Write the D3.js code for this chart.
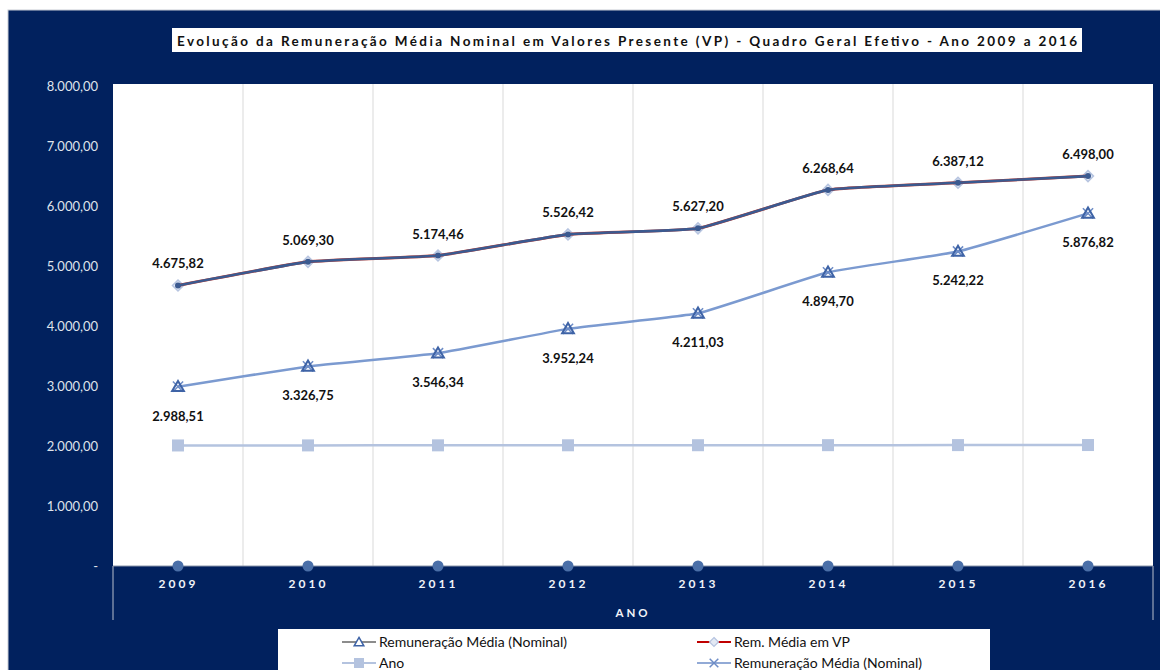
<!DOCTYPE html>
<html>
<head>
<meta charset="utf-8">
<script src="https://cdn.jsdelivr.net/npm/d3@7"></script>
<style>
  body { margin: 0; background: #fff; }
  svg { display: block; font-family: Lato, "Open Sans", sans-serif; }
</style>
</head>
<body>
<script>
const width = 1160;
const height = 670;

// data
const anos = ["2009", "2010", "2011", "2012", "2013", "2014", "2015", "2016"];
const nominal = [2988.51, 3326.75, 3546.34, 3952.24, 4211.03, 4894.70, 5242.22, 5876.82];
const emVP = [4675.82, 5069.30, 5174.46, 5526.42, 5627.20, 6268.64, 6387.12, 6498.00];
const anoSerie = [2009, 2010, 2011, 2012, 2013, 2014, 2015, 2016];
const zeros = [0, 0, 0, 0, 0, 0, 0, 0];
const yTicks = [0, 1000, 2000, 3000, 4000, 5000, 6000, 7000, 8000];

const titulo = "Evolução da Remuneração Média Nominal em Valores Presente (VP) - Quadro Geral Efetivo - Ano 2009 a 2016";

const navy = "#01215e";
const fmt = d3.formatLocale({ decimal: ",", thousands: ".", grouping: [3], currency: ["", ""] }).format(",.2f");

const svg = d3.select("body").append("svg")
    .attr("width", width)
    .attr("height", height);

// navy panel
svg.append("rect")
    .attr("x", 8).attr("y", 10)
    .attr("width", width).attr("height", height)
    .attr("fill", navy)
    .attr("stroke", "#c8ccd4");

// title box
svg.append("rect")
    .attr("x", 172).attr("y", 28)
    .attr("width", 910).attr("height", 24)
    .attr("fill", "#fff");
svg.append("text")
    .attr("x", 177).attr("y", 45.5)
    .attr("textLength", 900)
    .attr("lengthAdjust", "spacing")
    .attr("font-size", 13.5).attr("font-weight", 700)
    .attr("fill", "#111")
    .text(titulo);

const x = d3.scalePoint().domain(anos).range([113, 1153]).padding(0.5);
const band = x.step();
const y = d3.scaleLinear().domain([0, 8000]).range([566, 86]);

// plot area
svg.append("rect")
    .attr("x", 113).attr("y", 84)
    .attr("width", 1040).attr("height", 566 - 84)
    .attr("fill", "#fff");

// vertical gridlines between categories
svg.append("g")
    .selectAll("line")
    .data(anos.slice(1))
    .join("line")
    .attr("x1", d => x(d) - band / 2).attr("x2", d => x(d) - band / 2)
    .attr("y1", 84).attr("y2", 566)
    .attr("stroke", "#d9d9d9");

// box sides below the plot
svg.append("g")
    .selectAll("line")
    .data([113, 1153])
    .join("line")
    .attr("x1", d => d).attr("x2", d => d)
    .attr("y1", 566).attr("y2", 620)
    .attr("stroke", "#b8bfcc");

svg.append("line")
    .attr("x1", 113).attr("x2", 1153)
    .attr("y1", 566).attr("y2", 566)
    .attr("stroke", "#8b96aa");

// y axis labels
const yAxis = svg.append("g")
    .attr("transform", "translate(98,0)")
    .call(d3.axisLeft(y).tickValues(yTicks).tickSize(0).tickPadding(0)
        .tickFormat(d => d === 0 ? "-" : fmt(d)));
yAxis.select(".domain").remove();
yAxis.selectAll("text")
    .attr("font-family", "Lato, sans-serif")
    .attr("font-size", 13)
    .attr("fill", "#dfe3ec");

// x axis labels
const xAxis = svg.append("g")
    .attr("transform", "translate(0,566)")
    .call(d3.axisBottom(x).tickSize(0).tickPadding(13));
xAxis.select(".domain").remove();
xAxis.selectAll("text")
    .attr("font-family", "Lato, sans-serif")
    .attr("font-size", 12)
    .attr("font-weight", 700)
    .attr("letter-spacing", "3px")
    .attr("fill", "#f2f4f8");

svg.append("text")
    .attr("x", 633).attr("y", 617)
    .attr("text-anchor", "middle")
    .attr("font-size", 11.5).attr("font-weight", 700)
    .attr("letter-spacing", "3px")
    .attr("fill", "#f2f4f8")
    .text("ANO");

const line = d3.line().x((d, i) => x(anos[i])).y(d => y(d)).curve(d3.curveCardinal.tension(0.65));

// square turned 45 degrees, like the spreadsheet diamond
const diamondPath = r => `M0,${-r}L${r},0L0,${r}L${-r},0Z`;
const triangle = d3.symbol().type(d3.symbolTriangle).size(60);
const cross = d3.symbol().type(d3.symbolX).size(70);

// Ano series
svg.append("path").datum(anoSerie)
    .attr("d", line).attr("fill", "none")
    .attr("stroke", "#b4c3df").attr("stroke-width", 2.5);
svg.append("g").selectAll("rect").data(anoSerie).join("rect")
    .attr("x", (d, i) => x(anos[i]) - 6).attr("y", d => y(d) - 6)
    .attr("width", 12).attr("height", 12)
    .attr("fill", "#b4c3df");

// Remuneração média nominal
svg.append("path").datum(nominal)
    .attr("d", line).attr("fill", "none")
    .attr("stroke", "#7b9ad0").attr("stroke-width", 2.5);
svg.append("g").selectAll("path").data(nominal).join("path")
    .attr("transform", (d, i) => `translate(${x(anos[i])},${y(d)})`)
    .attr("d", cross)
    .attr("fill", "none").attr("stroke", "#6d8cc6").attr("stroke-width", 1.5);
svg.append("g").selectAll("path").data(nominal).join("path")
    .attr("transform", (d, i) => `translate(${x(anos[i])},${y(d) + 1})`)
    .attr("d", triangle)
    .attr("fill", "none").attr("stroke", "#3e63a6").attr("stroke-width", 2);

// Rem. média em VP
svg.append("g").selectAll("path").data(emVP).join("path")
    .attr("transform", (d, i) => `translate(${x(anos[i])},${y(d)})`)
    .attr("d", diamondPath(5.5))
    .attr("fill", "#e3e9f4").attr("stroke", "#b6c4e0").attr("stroke-width", 1.5);
svg.append("path").datum(emVP)
    .attr("d", line).attr("fill", "none")
    .attr("stroke", "#c0392b").attr("stroke-width", 3);
svg.append("path").datum(emVP)
    .attr("d", line).attr("fill", "none")
    .attr("stroke", "#3b5a90").attr("stroke-width", 2.6);
svg.append("g").selectAll("circle").data(emVP).join("circle")
    .attr("cx", (d, i) => x(anos[i])).attr("cy", d => y(d))
    .attr("r", 3).attr("fill", "#3b5a90");

// series sitting on zero
svg.append("g").selectAll("circle").data(zeros).join("circle")
    .attr("cx", (d, i) => x(anos[i])).attr("cy", d => y(d))
    .attr("r", 5.5).attr("fill", "#4a6fa8");

// data labels
svg.append("g").selectAll("text").data(emVP).join("text")
    .attr("x", (d, i) => x(anos[i])).attr("y", d => y(d) - 17)
    .attr("text-anchor", "middle")
    .attr("font-size", 13).attr("font-weight", 700).attr("fill", "#111")
    .text(d => fmt(d));
svg.append("g").selectAll("text").data(nominal).join("text")
    .attr("x", (d, i) => x(anos[i])).attr("y", d => y(d) + 34)
    .attr("text-anchor", "middle")
    .attr("font-size", 13).attr("font-weight", 700).attr("fill", "#111")
    .text(d => fmt(d));

// legend
const legend = svg.append("g");
legend.append("rect")
    .attr("x", 278).attr("y", 629)
    .attr("width", 712).attr("height", 60)
    .attr("fill", "#fff");

const legendItems = [
    { nome: "Remuneração Média (Nominal)", cor: "#8c8c8c", marca: "tri", lx: 342, ly: 642 },
    { nome: "Rem. Média em VP", cor: "#c00000", marca: "dia", lx: 697, ly: 642 },
    { nome: "Ano", cor: "#b4c3df", marca: "sq", lx: 342, ly: 663 },
    { nome: "Remuneração Média (Nominal)", cor: "#92aad6", marca: "x", lx: 697, ly: 663 }
];

legendItems.forEach(item => {
    const g = legend.append("g").attr("transform", `translate(${item.lx},${item.ly})`);
    g.append("line").attr("x1", 0).attr("x2", 34)
        .attr("stroke", item.cor).attr("stroke-width", 2.2);
    if (item.marca === "tri") {
        g.append("path").attr("transform", "translate(17,1)")
            .attr("d", d3.symbol().type(d3.symbolTriangle).size(40))
            .attr("fill", "#fff").attr("stroke", "#3e63a6").attr("stroke-width", 1.5);
    } else if (item.marca === "dia") {
        g.append("path").attr("transform", "translate(17,0)")
            .attr("d", diamondPath(4.5))
            .attr("fill", "#e3e9f4").attr("stroke", "#b6c4e0").attr("stroke-width", 1.2);
    } else if (item.marca === "sq") {
        g.append("rect").attr("x", 12).attr("y", -5)
            .attr("width", 10).attr("height", 10).attr("fill", "#b4c3df");
    } else {
        g.append("path").attr("transform", "translate(17,0)")
            .attr("d", d3.symbol().type(d3.symbolX).size(50))
            .attr("fill", "none").attr("stroke", "#6d8cc6").attr("stroke-width", 1.5);
    }
    g.append("text")
        .attr("x", 37).attr("y", 5)
        .attr("font-size", 14).attr("fill", "#111")
        .text(item.nome);
});
</script>
</body>
</html>
